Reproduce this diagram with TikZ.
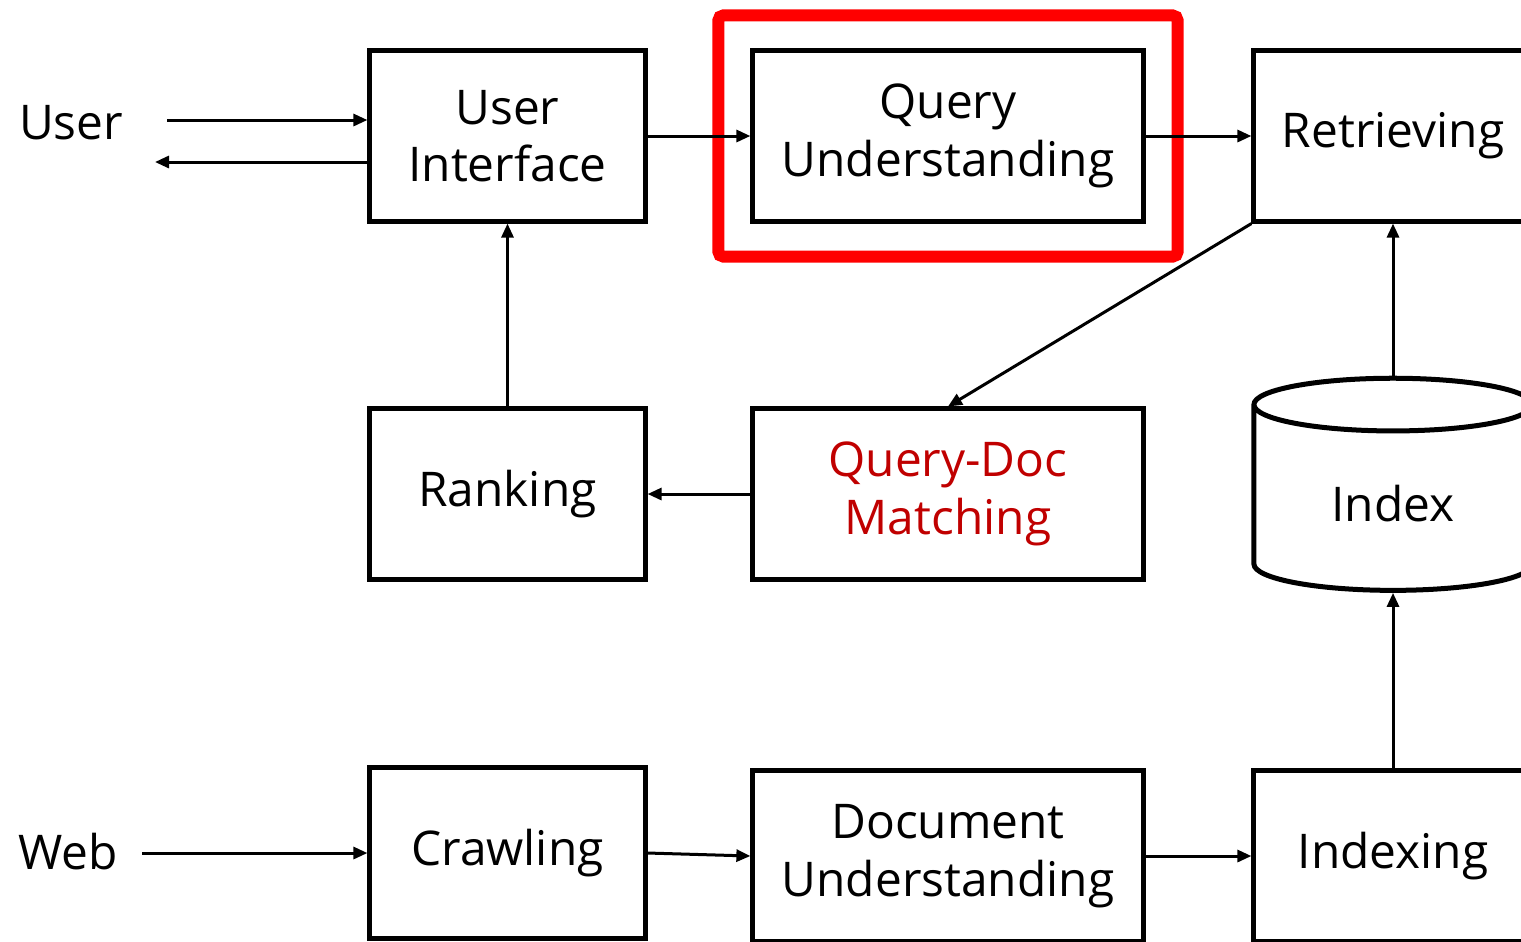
\documentclass[tikz,border=0pt]{standalone}
\usepackage{fontspec}
\setmainfont{Open Sans}
\usepackage{tikz}
\usetikzlibrary{calc, positioning, arrows.meta, shapes.geometric, fit}

\definecolor{hilite}{RGB}{255,0,0}
\definecolor{matchred}{RGB}{192,0,0}

\tikzset{
  blk/.style={draw, rectangle, line width=0.05cm, align=center, minimum height=1.7cm},
  narrowblk/.style={blk, minimum width=2.75cm},
  wideblk/.style={blk, minimum width=3.9cm},
  arr/.style={-{Triangle[length=0.14cm, width=0.12cm]}, line width=0.03cm},
  txt/.style={font=\fontsize{13.6}{16.4}\selectfont}
}

\begin{document}
\begin{tikzpicture}[x=0.01cm, y=-0.01cm, txt]
  \clip (0, 0) rectangle (1521, 941);

  % top row
  \node[narrowblk] (ui) at (507.5, 136) {User\\Interface};
  \node[wideblk] (qu) at (948, 136) {Query\\Understanding};
  \node[blk, minimum width=2.78cm] (ret) at (1393, 136) {Retrieving};

  % middle row
  \node[narrowblk] (rank) at (507.5, 494) {Ranking};
  \node[wideblk, text=matchred] (qdm) at (948, 494) {Query-Doc\\Matching};
  \node[draw, cylinder, shape border rotate=90, aspect=0.36, line width=0.05cm,
        minimum width=2.78cm, minimum height=2.12cm] (idx) at (1393, 504) {Index};

  % bottom row
  \node[narrowblk] (crawl) at (507.5, 853) {Crawling};
  \node[wideblk] (docu) at (948, 856) {Document\\Understanding};
  \node[blk, minimum width=2.78cm] (idxing) at (1393, 856) {Indexing};

  % outside sources
  \node (user) at (71, 123) {User};
  \node (web) at (68, 852) {Web};
  \coordinate (uin) at (167, 120);
  \coordinate (uout) at (155, 162);
  \coordinate (win) at (142, 853);

  % highlight around query understanding
  \node[draw=hilite, line width=0.12cm, rounded corners=0.05cm, inner xsep=0.32cm,
        inner ysep=0.33cm, fit=(qu)] (focus) {};

  \draw[arr] (uin) -- (uin -| ui.west);
  \draw[arr] (uout -| ui.west) -- (uout);
  \draw[arr] (ui) -- (qu);
  \draw[arr] (qu) -- (ret);
  \draw[arr] (ret.south west) -- (qdm.north);
  \draw[arr] (qdm) -- (rank);
  \draw[arr] (rank) -- (ui);
  \draw[arr] (idx.top) -- (ret.south);
  \draw[arr] (win) -- (win -| crawl.west);
  \draw[arr] (crawl.east) -- (docu.west);
  \draw[arr] (docu) -- (idxing);
  \draw[arr] (idxing) -- (idx.bottom);
\end{tikzpicture}
\end{document}
